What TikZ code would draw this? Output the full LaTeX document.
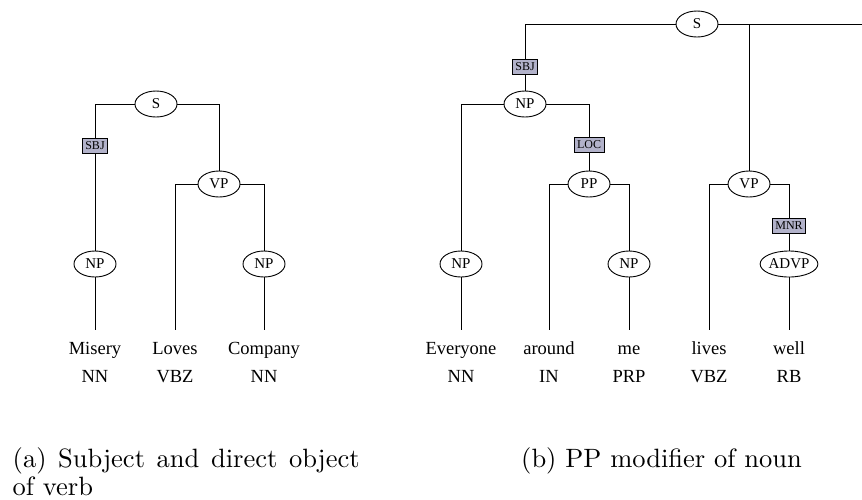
\documentclass[tikz,border=0pt]{standalone}
\usepackage{fontspec}
\newfontfamily\treefont{Liberation Serif}
\newfontfamily\capfont{lmroman10-regular.otf}
\usetikzlibrary{shapes.geometric,backgrounds}
\definecolor{relfill}{RGB}{178,178,202}

\begin{document}
\begin{tikzpicture}[x=1pt,y=-1pt,
  catnode/.style={ellipse,draw,fill=white,line width=0.9pt,minimum width=42pt,
    minimum height=26pt,inner sep=0pt,font=\treefont\fontsize{15}{18}\selectfont},
  relbox/.style={rectangle,draw,fill=relfill,line width=0.8pt,minimum height=15pt,
    inner xsep=3pt,inner ysep=0pt,font=\treefont\fontsize{12}{14}\selectfont},
  wordnode/.style={anchor=north,inner sep=0pt,text height=24pt,text depth=5pt,
    font=\treefont\fontsize{18.5}{20}\selectfont},
  posnode/.style={anchor=base,inner sep=0pt,font=\treefont\fontsize{18.5}{20}\selectfont},
  treeline/.style={line width=1pt},
  caption/.style={anchor=base west,inner sep=0pt,font=\capfont\fontsize{26.5}{28.5}\selectfont}
]
\useasboundingbox (0,0) rectangle (862,499);

% ---- tree (a) ----
\node[catnode] (aS)   at (156,104) {S};
\node[relbox]  (aSBJ) at (95,146)  {SBJ};
\node[catnode] (aNP1) at (95,264)  {NP};
\node[catnode] (aVP)  at (219,184) {VP};
\node[catnode] (aNP2) at (264,264) {NP};
\node[wordnode] (aw1) at (95,330)  {Misery};
\node[wordnode] (aw2) at (175,330) {Loves};
\node[wordnode] (aw3) at (264,330) {Company};
\node[posnode] (ap1) at (95,382)  {NN};
\node[posnode] (ap2) at (175,382) {VBZ};
\node[posnode] (ap3) at (264,382) {NN};

% ---- tree (b) ----
\node[catnode] (bS)    at (697,24)  {S};
\coordinate    (bEdge) at (862,24);
\node[relbox]  (bSBJ)  at (525,67)  {SBJ};
\node[catnode] (bNP)   at (525,104) {NP};
\node[relbox]  (bLOC)  at (589,145) {LOC};
\node[catnode] (bPP)   at (589,184) {PP};
\node[catnode] (bNP1)  at (461,264) {NP};
\node[catnode] (bNP2)  at (629,264) {NP};
\node[catnode] (bVP)   at (749,184) {VP};
\node[relbox]  (bMNR)  at (789,226) {MNR};
\node[catnode] (bADVP) at (789,264) {ADVP};
\node[wordnode] (bw1) at (461,330) {Everyone};
\node[wordnode] (bw2) at (549,330) {around};
\node[wordnode] (bw3) at (629,330) {me};
\node[wordnode] (bw4) at (709,330) {lives};
\node[wordnode] (bw5) at (789,330) {well};
\node[posnode] (bp1) at (461,382) {NN};
\node[posnode] (bp2) at (549,382) {IN};
\node[posnode] (bp3) at (629,382) {PRP};
\node[posnode] (bp4) at (709,382) {VBZ};
\node[posnode] (bp5) at (789,382) {RB};

% ---- branches, behind the nodes ----
\begin{scope}[on background layer,treeline]
  \draw (aS.west) -| (aNP1.north);
  \draw (aS.east) -| (aVP.north);
  \draw (aNP1.south) -- (aw1.north);
  \draw (aVP.west) -| (aw2.north);
  \draw (aVP.east) -| (aNP2.north);
  \draw (aNP2.south) -- (aw3.north);

  \draw (bS.west) -| (bNP.north);
  \draw (bS.east) -- (bEdge);
  \draw (bS.east -| bVP.north) -- (bVP.north);
  \draw (bNP.west) -| (bNP1.north);
  \draw (bNP.east) -| (bPP.north);
  \draw (bNP1.south) -- (bw1.north);
  \draw (bPP.west) -| (bw2.north);
  \draw (bPP.east) -| (bNP2.north);
  \draw (bNP2.south) -- (bw3.north);
  \draw (bVP.west) -| (bw4.north);
  \draw (bVP.east) -| (bADVP.north);
  \draw (bADVP.south) -- (bw5.north);
\end{scope}

% ---- captions ----
\node[caption,text width=347pt,align=justify] (capA) at (12.5,467)
  {(a) Subject and direct object\linebreak of verb};
\node[caption] (capB) at (521,467) {(b) PP modifier of noun};
\end{tikzpicture}
\end{document}
